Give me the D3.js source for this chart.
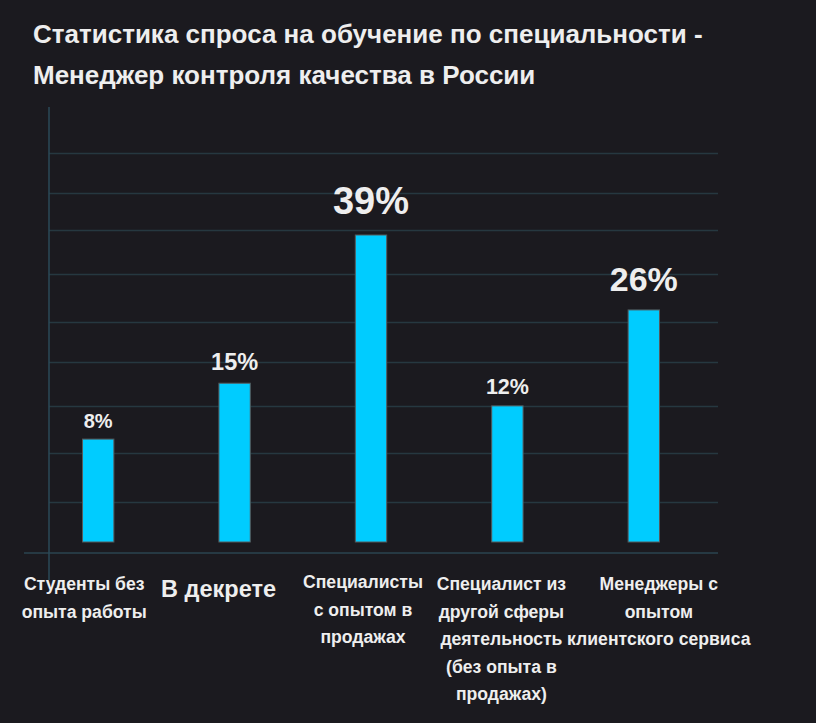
<!DOCTYPE html>
<html><head><meta charset="utf-8">
<script src="https://cdn.jsdelivr.net/npm/d3@7/dist/d3.min.js"></script>
<style>
html,body{margin:0;padding:0;background:#1b1a1f;}
svg{display:block;}
text{font-family:"Liberation Sans",Arial,sans-serif;font-weight:bold;fill:#eeeeee;}
</style></head>
<body>
<script>
const titleLines = ["Статистика спроса на обучение по специальности -", "Менеджер контроля качества в России"];
const categories = [
  "Студенты без\nопыта работы",
  "В декрете",
  "Специалисты\nс опытом в\nпродажах",
  "Специалист из\nдругой сферы\nдеятельность\n(без опыта в\nпродажах)",
  "Менеджеры с\nопытом\nклиентского сервиса"
];
const values = [8, 15, 39, 12, 26];
const valueLabels = ["8%", "15%", "39%", "12%", "26%"];
const gridValues = [2, 6.5, 12, 18, 24, 32, 40, 47, 55];

const W = 816, H = 723;
const svg = d3.select("body").append("svg").attr("width", W).attr("height", H);
svg.append("rect").attr("width", W).attr("height", H).attr("fill", "#1b1a1f");

// title
svg.selectAll("text.title").data(titleLines).enter().append("text")
  .attr("class", "title").attr("x", 33).attr("y", (d, i) => 43 + i * 41)
  .attr("font-size", 26).text(d => d);

const x = d3.scaleBand().domain(categories).range([30, 712]).paddingInner(0.77).paddingOuter(0.385);
const y = d3.scalePow().exponent(0.69).domain([0, 39]).range([542, 235]);

const plotLeft = 49, plotRight = 718, axisY = y(0) + 11;

// gridlines
svg.append("g").selectAll("line").data(gridValues).enter().append("line")
  .attr("x1", plotLeft).attr("x2", plotRight)
  .attr("y1", d => Math.round(y(d)) + 0.5).attr("y2", d => Math.round(y(d)) + 0.5)
  .attr("stroke", "#263840").attr("stroke-width", 1.5);

// bottom axis line
svg.append("line").attr("x1", 24).attr("x2", plotRight).attr("y1", axisY).attr("y2", axisY)
  .attr("stroke", "#2b4550").attr("stroke-width", 1.5);
// vertical axis line
svg.append("line").attr("x1", plotLeft).attr("x2", plotLeft).attr("y1", 107).attr("y2", 580)
  .attr("stroke", "#2b4a58").attr("stroke-width", 1.5);

// bars
svg.append("g").selectAll("rect").data(values).enter().append("rect")
  .attr("x", (d, i) => x(categories[i]))
  .attr("width", x.bandwidth())
  .attr("y", d => y(d))
  .attr("height", d => y(0) - y(d))
  .attr("fill", "#00ccff").attr("stroke", "#555a5c").attr("stroke-width", 1);

// value labels
const labelSize = d3.scaleLinear().domain([8, 12, 15, 26, 39]).range([20, 21.5, 23.5, 34, 38]);
svg.append("g").selectAll("text").data(values).enter().append("text")
  .attr("x", (d, i) => x(categories[i]) + x.bandwidth() / 2)
  .attr("y", d => y(d) - labelSize(d) * 0.55)
  .attr("text-anchor", "middle")
  .attr("font-size", d => labelSize(d))
  .text((d, i) => valueLabels[i]);

// category labels
const catDx = [-14, -16, -8, -6, 15];
const catSize = [17.6, 23.5, 17.6, 17.6, 17.6];
const catY0 = [590, 597, 588, 590, 590];
categories.forEach((c, i) => {
  const t = svg.append("text")
    .attr("x", x(c) + x.bandwidth() / 2 + catDx[i])
    .attr("y", catY0[i])
    .attr("text-anchor", "middle")
    .attr("font-size", catSize[i]);
  c.split("\n").forEach((line, j) => {
    t.append("tspan").attr("x", x(c) + x.bandwidth() / 2 + catDx[i])
      .attr("dy", j === 0 ? 0 : 27.5).text(line);
  });
});
</script>
</body></html>
